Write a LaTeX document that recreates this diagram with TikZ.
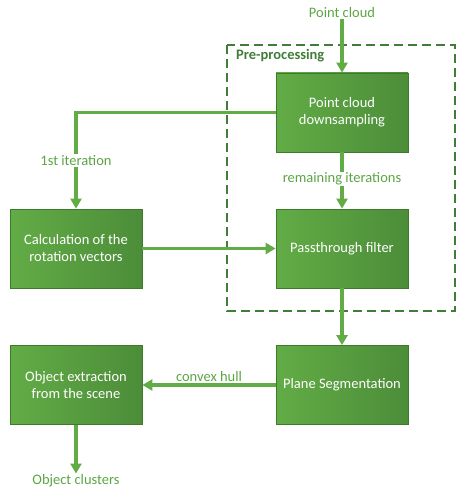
\documentclass[tikz,border=0pt]{standalone}
\usepackage{fontspec}
\setmainfont{Carlito}
\usetikzlibrary{arrows.meta}
\definecolor{boxlight}{HTML}{62AC46}
\definecolor{boxdark}{HTML}{4C8D39}
\definecolor{boxedge}{HTML}{3E7A2E}
\definecolor{linegreen}{HTML}{62AC46}
\definecolor{labelgreen}{HTML}{5BA544}
\definecolor{dashgreen}{HTML}{3F7D38}
\begin{document}
\begin{tikzpicture}[x=1pt,y=-1pt,
  procbox/.style={draw=boxedge, line width=0.8pt, left color=boxlight, right color=boxdark,
    minimum width=132pt, minimum height=79pt, text=white, align=center, font=\fontsize{14.5}{17}\selectfont, inner sep=2pt},
  flow/.style={draw=linegreen, line width=3.2pt, -{Triangle[width=11pt,length=10pt]}},
  lbl/.style={text=labelgreen, font=\fontsize{14.5}{17}\selectfont, inner sep=1pt}]
\useasboundingbox (0,0) rectangle (457,492);
\draw[dashgreen, line width=1.2pt, dash pattern=on 9pt off 5pt] (227,45) rectangle (455,311);
\node[anchor=west, text=dashgreen, font=\fontsize{14.5}{17}\selectfont\bfseries, inner sep=0pt] (pre) at (236,56) {Pre-processing};

\node[procbox] (down) at (342,112.5) {Point cloud\\downsampling};
\node[procbox] (pass) at (342,248.5) {Passthrough filter};
\node[procbox] (calc) at (76,248.5) {Calculation of the\\rotation vectors};
\node[procbox] (plane) at (342,385) {Plane Segmentation};
\node[procbox] (obj) at (76,385) {Object extraction\\from the scene};

\node[lbl] (pc) at (342,13) {Point cloud};
\node[lbl] (oc) at (76,481) {Object clusters};
\coordinate (turn) at (76,112.5);

\draw[flow] (pc.south) -- (down.north);
\draw[flow] (down.west) -- (turn) -- (calc.north) node[pos=0.5, lbl, fill=white] (first) {1st iteration};
\draw[flow] (down.south) -- (pass.north) node[pos=0.47, lbl, fill=white] (rem) {remaining iterations};
\draw[flow] (calc.east) -- (pass.west);
\draw[flow] (pass.south) -- (plane.north);
\draw[flow] (plane.west) -- (obj.east) node[pos=0.5, lbl, above=1pt] (hull) {convex hull};
\draw[flow] (obj.south) -- (oc.north);
\end{tikzpicture}
\end{document}
